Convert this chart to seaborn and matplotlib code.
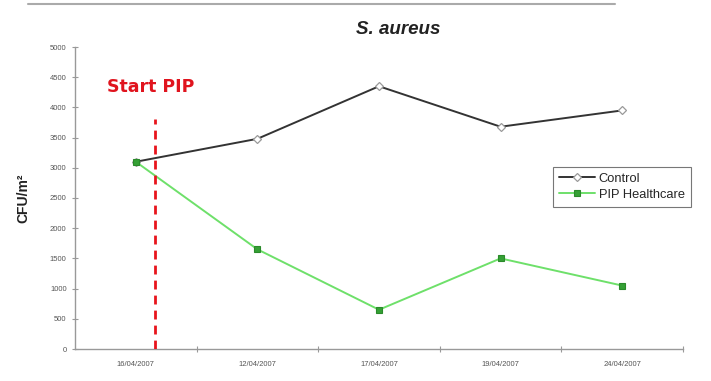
import matplotlib
matplotlib.use("Agg")
import matplotlib.pyplot as plt
from matplotlib.lines import Line2D
from matplotlib.ticker import FixedLocator
import pandas as pd
import seaborn as sns

# Sampling dates and S. aureus counts (CFU/m²)
dates = ["16/04/2007", "12/04/2007", "17/04/2007", "19/04/2007", "24/04/2007"]
control = [3100, 3480, 4350, 3680, 3950]
pip_healthcare = [3100, 1650, 650, 1500, 1050]
series_names = ["Control", "PIP Healthcare"]
start_pip_label = "Start PIP"
start_pip_pos = 0.16
start_pip_top = 3800
y_ticks = list(range(0, 5001, 500))

df = pd.DataFrame({
    "date": dates * 2,
    "cfu": control + pip_healthcare,
    "series": [series_names[0]] * len(dates) + [series_names[1]] * len(dates),
})

sns.set_theme(style="white")
plt.rcParams["font.family"] = ["Liberation Sans", "DejaVu Sans"]

fig = plt.figure(figsize=(7.11, 3.81), dpi=100)
ax = fig.add_axes([75 / 711, 1 - 349 / 381, (683 - 75) / 711, (349 - 47) / 381])

line_colors = {"Control": "#333333", "PIP Healthcare": "#6ee06a"}
sns.lineplot(data=df, x="date", y="cfu", hue="series", style="series",
             palette=line_colors, markers={"Control": "D", "PIP Healthcare": "s"},
             dashes=False, linewidth=1.4, markersize=5, ax=ax, zorder=3,
             sort=False, legend=False)

# Marker styling per series (lines come in hue order)
marker_style = {
    "Control": dict(markerfacecolor="white", markeredgecolor="#999999",
                    markersize=4, markeredgewidth=0.9),
    "PIP Healthcare": dict(markerfacecolor="#35a035", markeredgecolor="#2a8a2a",
                           markersize=4.8, markeredgewidth=0.8),
}
handles = []
for line, name in zip(ax.get_lines()[:2], series_names):
    line.set(**marker_style[name])
    line.set_label(name)
    handles.append(line)

# Start-of-treatment marker
ax.vlines(start_pip_pos, 0, start_pip_top, colors="#e8141c", linestyles=(0, (3.2, 2.2)),
          linewidth=2.0, zorder=5)
ax.text(start_pip_pos - 0.04, 4330, start_pip_label, color="#e0141e", fontsize=12.5,
        fontweight="bold", family=["DejaVu Sans"], ha="center", va="center")

ax.set_xlim(-0.5, len(dates) - 0.5)
ax.set_ylim(0, 5000)
ax.set_yticks(y_ticks)
ax.set_yticklabels([str(v) for v in y_ticks], fontsize=5.5, color="#555555")
ax.set_xticks(range(len(dates)))
ax.set_xticklabels(dates, fontsize=5.5, color="#555555")
ax.xaxis.set_minor_locator(FixedLocator([i + 0.5 for i in range(len(dates))]))
ax.tick_params(axis="x", which="major", length=0, pad=9)
ax.tick_params(axis="x", which="minor", length=4, width=0.8, color="#999999",
               direction="inout", bottom=True)
ax.tick_params(axis="y", length=4, width=0.8, color="#999999", direction="inout",
               left=True, pad=4)
ax.set_xlabel("")
ax.set_ylabel("CFU/m²", fontsize=10, fontweight="bold", color="#222222", labelpad=14)

for side in ("top", "right"):
    ax.spines[side].set_visible(False)
for side in ("left", "bottom"):
    ax.spines[side].set_color("#999999")
    ax.spines[side].set_linewidth(1.0)

leg = ax.legend(handles=handles, loc="upper left",
                bbox_to_anchor=((553 - 75) / 608, (349 - 167) / 302),
                borderaxespad=0, fontsize=9.3, frameon=True, fancybox=False,
                edgecolor="#555555", borderpad=0.45, handlelength=2.8,
                handletextpad=0.3, labelspacing=0.3)
leg.get_frame().set_linewidth(0.8)

fig.text(398 / 711, 1 - 29 / 381, "S. aureus", fontsize=13.5, fontweight="bold",
         fontstyle="italic", ha="center", va="center", color="#222222")
fig.add_artist(Line2D([28 / 711, 615 / 711], [1 - 4 / 381, 1 - 4 / 381],
                      color="#aaaaaa", linewidth=1.5))

fig.savefig("out.png", dpi=100)
